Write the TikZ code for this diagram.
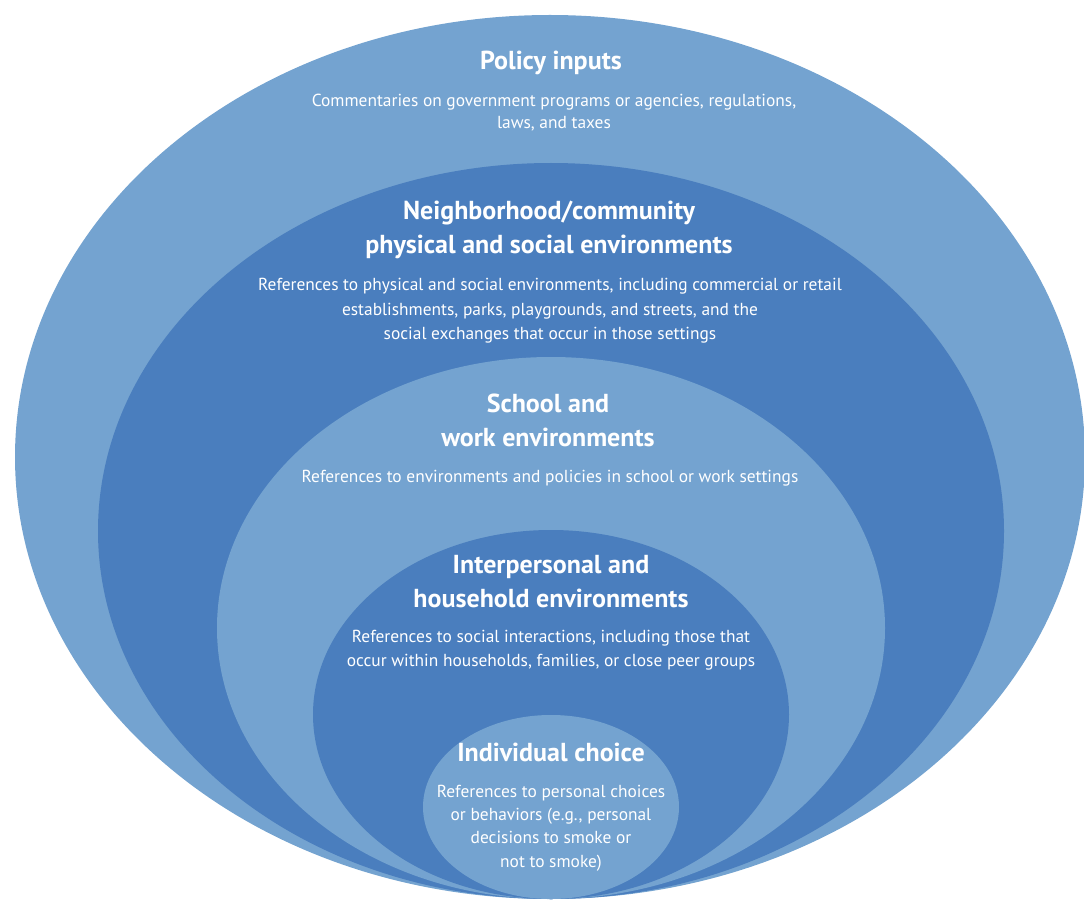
\documentclass[tikz,border=0pt]{standalone}
\usepackage{fontspec}
\setmainfont{PT Sans}
\definecolor{bandlight}{RGB}{116,163,208}
\definecolor{banddark}{RGB}{74,126,190}

\begin{document}
\begin{tikzpicture}[x=1pt, y=-1pt,
    headtext/.style={text=white, align=center, inner sep=0pt,
        font=\bfseries\fontsize{26}{34}\selectfont},
    bodytext/.style={text=white, align=center, inner sep=0pt,
        font=\fontsize{17.4}{23.5}\selectfont}]
  \useasboundingbox (0,0) rectangle (1084,901);
  % nested levels, all touching at the bottom
  \fill[bandlight] (550,457) ellipse (535 and 442);
  \fill[banddark]  (551,531) ellipse (453 and 368);
  \fill[bandlight] (551,628) ellipse (334 and 271);
  \fill[banddark]  (551,714.5) ellipse (238 and 184.5);
  \fill[bandlight] (551,807) ellipse (128 and 92);

  % policy
  \node[headtext] (policy) at (551,63) {Policy inputs};
  \node[bodytext, font=\fontsize{17.4}{22}\selectfont] (policytxt) at (554,113)
      {Commentaries on government programs or agencies, regulations,\\laws, and taxes};
  % neighborhood
  \node[headtext] (hood) at (549,230) {Neighborhood/community\\physical and social environments};
  \node[bodytext, font=\fontsize{17.4}{24.5}\selectfont] (hoodtxt) at (550,311)
      {References to physical and social environments, including commercial or retail\\
       establishments, parks, playgrounds, and streets, and the\\
       social exchanges that occur in those settings};
  % school / work
  \node[headtext] (school) at (548,420) {School and\\work environments};
  \node[bodytext] (schooltxt) at (550,478)
      {References to environments and policies in school or work settings};
  % interpersonal
  \node[headtext] (home) at (551,582) {Interpersonal and\\household environments};
  \node[bodytext, font=\fontsize{17.4}{24}\selectfont] (hometxt) at (551,650)
      {References to social interactions, including those that\\
       occur within households, families, or close peer groups};
  % individual
  \node[headtext] (self) at (551,752) {Individual choice};
  \node[bodytext, font=\fontsize{17.4}{23.3}\selectfont] (selftxt) at (551,828)
      {References to personal choices\\or behaviors (e.g., personal\\
       decisions to smoke or\\not to smoke)};
\end{tikzpicture}
\end{document}
